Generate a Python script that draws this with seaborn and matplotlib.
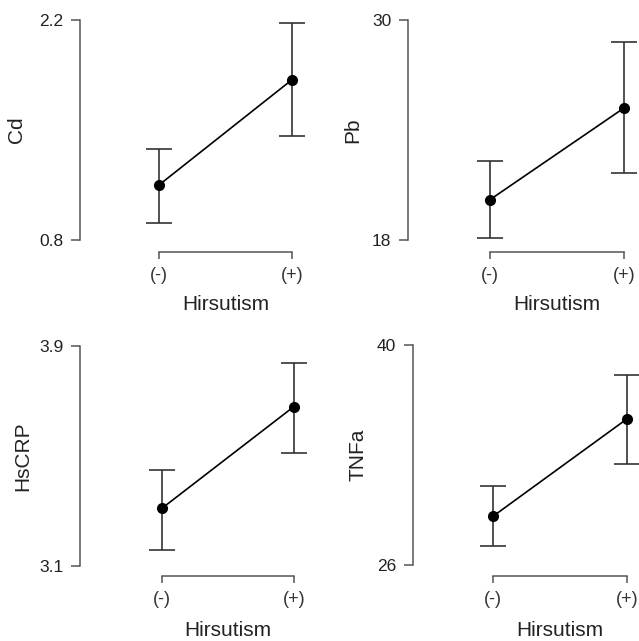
import matplotlib
matplotlib.use("Agg")
import matplotlib.pyplot as plt
import pandas as pd
import seaborn as sns

sns.set_style("white")
plt.rcParams['font.family'] = ['Liberation Sans', 'DejaVu Sans']

# group labels on the x axis
groups = ["(-)", "(+)"]
xlabel = "Hirsutism"

# means and error bar ends
cd_mean = [1.15, 1.82]
cd_lo = [0.91, 1.46]
cd_hi = [1.38, 2.18]
cd_ticks = [0.8, 2.2]

pb_mean = [20.2, 25.2]
pb_lo = [18.1, 21.65]
pb_hi = [22.3, 28.8]
pb_ticks = [18, 30]

crp_mean = [3.31, 3.68]
crp_lo = [3.16, 3.51]
crp_hi = [3.45, 3.84]
crp_ticks = [3.1, 3.9]

tnf_mean = [29.1, 35.3]
tnf_lo = [27.2, 32.4]
tnf_hi = [31.0, 38.1]
tnf_ticks = [26, 40]

W, H = 639, 641
fig = plt.figure(figsize=(W / 100, H / 100), dpi=100)

# panel layout in pixels: y spine x, top tick y, bottom tick y, (-) x, (+) x, x spine y
panels = [
    ("Cd", cd_mean, cd_lo, cd_hi, cd_ticks, (80, 20, 240, 159, 292, 252), "{:.1f}"),
    ("Pb", pb_mean, pb_lo, pb_hi, pb_ticks, (408, 20, 240, 490, 624, 252), "{:.0f}"),
    ("HsCRP", crp_mean, crp_lo, crp_hi, crp_ticks, (80, 346, 566, 162, 294, 576), "{:.1f}"),
    ("TNFa", tnf_mean, tnf_lo, tnf_hi, tnf_ticks, (413, 345, 565, 493, 627, 576), "{:.0f}"),
]
ylab_x = [17, 353, 23, 358]

spine_col = "#555555"
text_col = "#222222"

for i, (name, mean, lo, hi, ticks, pos, fmt) in enumerate(panels):
    sx, top, bot, xm, xp, xsy = pos
    width = 225
    ax = fig.add_axes([sx / W, 1 - bot / H, width / W, (bot - top) / H])
    ax.set_facecolor("none")

    df = pd.DataFrame({"x": [0, 1], "mean": mean, "lo": lo, "hi": hi})

    ax.errorbar(df["x"], df["mean"],
                yerr=[df["mean"] - df["lo"], df["hi"] - df["mean"]],
                fmt="none", ecolor="#333333", elinewidth=1.2,
                capsize=9.7, capthick=1.2, clip_on=False, zorder=1)
    sns.lineplot(data=df, x="x", y="mean", ax=ax, color="black", lw=1.2,
                 marker="o", markersize=8, markeredgewidth=0, zorder=3)
    for ln in ax.lines:
        ln.set_clip_on(False)

    pxu = xp - xm
    x0 = -(xm - sx) / pxu
    ax.set_xlim(x0, x0 + width / pxu)
    ax.set_ylim(ticks[0], ticks[1])

    sns.despine(ax=ax)
    ax.spines["left"].set_bounds(ticks[0], ticks[1])
    ax.spines["bottom"].set_bounds(0, 1)
    ax.spines["bottom"].set_position(("outward", (xsy - bot) * 0.72))
    for s in ("left", "bottom"):
        ax.spines[s].set_color(spine_col)
        ax.spines[s].set_linewidth(1.1)

    ax.set_yticks(ticks)
    ax.set_yticklabels([fmt.format(t) for t in ticks])
    ax.set_xticks([0, 1])
    ax.set_xticklabels(groups)
    ax.tick_params(axis="y", length=6.5, width=1.1, color=spine_col, pad=5.5,
                   labelsize=12.5, labelcolor=text_col, left=True)
    ax.tick_params(axis="x", length=5, width=1.1, color=spine_col, pad=6,
                   labelsize=13, labelcolor="#333333", bottom=True)

    ax.set_xlabel(xlabel, fontsize=15, color=text_col, va="center")
    ax.xaxis.set_label_coords(0.5 * (xm + xp - 2 * sx) / width,
                              1 - (305 + (top - 20) - top) / (bot - top))
    ax.set_ylabel(name, fontsize=15, color=text_col, va="center")
    ax.yaxis.set_label_coords((ylab_x[i] - sx) / width, 0.5)

fig.savefig("out.png", dpi=100)
